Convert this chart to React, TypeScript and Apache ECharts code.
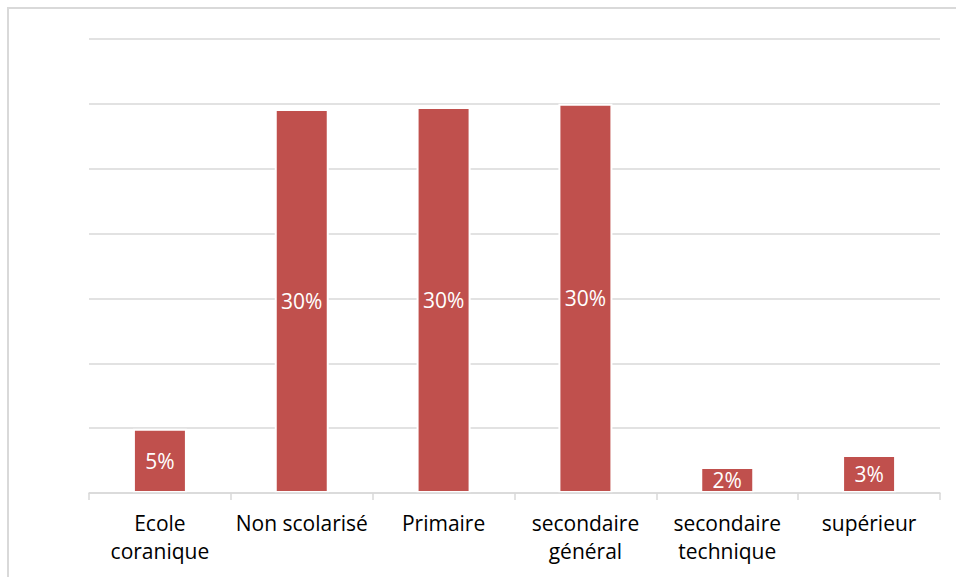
import React, { useEffect, useRef } from "react";
import * as echarts from "echarts";

const categories = [
  "Ecole\ncoranique",
  "Non scolarisé",
  "Primaire",
  "secondaire\ngénéral",
  "secondaire\ntechnique",
  "supérieur",
];
const values = [4.95, 29.6, 29.75, 30, 2.0, 2.93];
const yTicks = { min: 0, max: 35, interval: 5 };

export default function App() {
  const ref = useRef<HTMLDivElement>(null);
  useEffect(() => {
    if (!ref.current) return;
    const chart = echarts.init(ref.current, null, { renderer: "svg" });
    chart.setOption({
      animation: false,
      backgroundColor: "#ffffff",
      textStyle: { fontFamily: "Open Sans" },
      graphic: [
        {
          type: "rect",
          shape: { x: 8, y: 8, width: 960, height: 600 },
          style: { fill: "none", stroke: "#d9d9d9", lineWidth: 2 },
          silent: true,
        },
      ],
      grid: { left: 89, right: 16, top: 39, bottom: 84, containLabel: false },
      xAxis: {
        type: "category",
        data: categories,
        z: 5,
        axisLine: { show: true, lineStyle: { color: "#d9d9d9", width: 1.5 } },
        axisTick: { show: true, length: 7, alignWithLabel: false, lineStyle: { color: "#d9d9d9", width: 1.5 } },
        axisLabel: {
          color: "#000000",
          fontSize: 21,
          lineHeight: 28,
          margin: 16,
          interval: 0,
          fontFamily: "Open Sans",
        },
      },
      yAxis: {
        type: "value",
        min: yTicks.min,
        max: yTicks.max,
        interval: yTicks.interval,
        axisLabel: { show: false },
        axisLine: { show: false },
        axisTick: { show: false },
        splitLine: { show: true, lineStyle: { color: "#d9d9d9", width: 1.5 } },
      },
      series: [
        {
          type: "bar",
          data: values,
          barWidth: 54,
          itemStyle: { color: "#c0504d", borderColor: "#ffffff", borderWidth: 2 },
          label: {
            show: true,
            position: "inside",
            color: "#ffffff",
            fontSize: 21,
            fontFamily: "Open Sans",
            formatter: (p: any) => Math.round(p.value) + "%",
          },
        },
      ],
    });
    return () => chart.dispose();
  }, []);
  return (
    <div
      ref={ref}
      style={{ position: "fixed", left: 0, top: 0, width: 956, height: 577 }}
    />
  );
}
